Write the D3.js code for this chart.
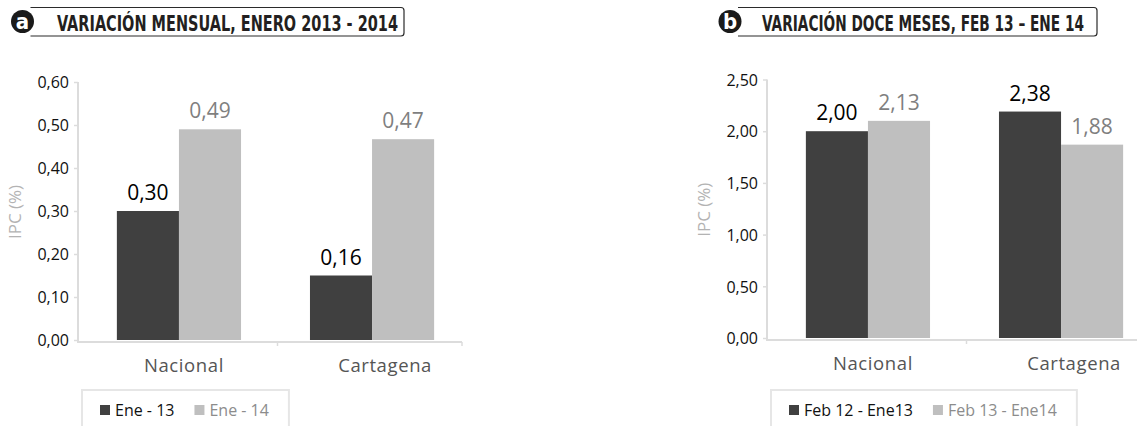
<!DOCTYPE html>
<html>
<head>
<meta charset="utf-8">
<script src="https://cdn.jsdelivr.net/npm/d3@7"></script>
<style>
  body { margin: 0; background: #fff; }
  svg { display: block; font-family: "Open Sans", sans-serif; }
</style>
</head>
<body>
<div id="chart"></div>
<script>
// Data
var categories = ["Nacional", "Cartagena"];

var seriesA = ["Ene - 13", "Ene - 14"];
var valuesA = [[0.30, 0.49], [0.15, 0.467]];          // bar heights as drawn
var labelsA = [["0,30", "0,49"], ["0,16", "0,47"]];    // printed value labels
var ticksA = [0, 0.1, 0.2, 0.3, 0.4, 0.5, 0.6];

var seriesB = ["Feb 12 - Ene13", "Feb 13 - Ene14"];
var valuesB = [[2.00, 2.10], [2.19, 1.87]];
var labelsB = [["2,00", "2,13"], ["2,38", "1,88"]];
var ticksB = [0, 0.5, 1, 1.5, 2, 2.5];

var titleA = "VARIACIÓN MENSUAL, ENERO 2013 - 2014";
var titleB = "VARIACIÓN DOCE MESES, FEB 13 – ENE 14";

var colors = ["#404040", "#bfbfbf"];
var labelColors = ["#000", "#7f7f7f"];
var legendColors = ["#111", "#8c8c8c"];

var titleFont = "'Liberation Sans Narrow', 'DejaVu Sans', sans-serif";

function init() {
    var svg = d3.select("#chart")
        .append("svg")
        .attr("width", 1137)
        .attr("height", 426);

    drawPanel(svg, {
        left: 0, letter: "a", badgeX: 22.5, titleX: 57, title: titleA, titleEnd: 404, titleWidth: 341,
        series: seriesA, values: valuesA, labels: labelsA, ticks: ticksA,
        yMax: 0.6, yTop: 82, yBottom: 340, axisEnd: 462
    });
    drawPanel(svg, {
        left: 689, letter: "b", badgeX: 730, titleX: 762, title: titleB, titleEnd: 1097, titleWidth: 322,
        series: seriesB, values: valuesB, labels: labelsB, ticks: ticksB,
        yMax: 2.5, yTop: 79.5, yBottom: 338, axisEnd: 1140
    });
}

function drawPanel(svg, cfg) {
    var g = svg.append("g");
    var ox = cfg.left;
    var axisX = ox + 78;

    // Title badge
    var cx = cfg.badgeX, cy = 21.5, r = 11.5;
    g.append("path")
        .attr("d", "M" + (cx + 8) + ",7.5 H" + (cfg.titleEnd - 3) +
            " Q" + cfg.titleEnd + ",7.5 " + cfg.titleEnd + ",10.5 V33" +
            " Q" + cfg.titleEnd + ",36 " + (cfg.titleEnd - 3) + ",36 H" + (cx + 8))
        .attr("fill", "none")
        .attr("stroke", "#2b2b2b")
        .attr("stroke-width", 1.2);
    g.append("circle")
        .attr("cx", cx).attr("cy", cy).attr("r", r)
        .attr("fill", "#1a1a1a");
    g.append("text")
        .attr("x", cx).attr("y", cy + 7)
        .attr("text-anchor", "middle")
        .style("font-family", titleFont)
        .style("font-stretch", "condensed")
        .style("font-weight", "bold")
        .style("font-size", "22px")
        .attr("fill", "#fff")
        .text(cfg.letter);
    g.append("text")
        .attr("x", cfg.titleX).attr("y", 31)
        .attr("textLength", cfg.titleWidth)
        .attr("lengthAdjust", "spacingAndGlyphs")
        .style("font-family", titleFont)
        .style("font-stretch", "condensed")
        .style("font-weight", "bold")
        .style("font-size", "21px")
        .attr("fill", "#231f20")
        .text(cfg.title);

    // Scales
    var x0 = d3.scaleBand()
        .domain(categories)
        .range([ox + 82.5, ox + 468.5])
        .paddingInner(0.357)
        .paddingOuter(0.178);
    var x1 = d3.scaleBand()
        .domain(d3.range(cfg.series.length))
        .range([0, x0.bandwidth()]);
    var y = d3.scaleLinear()
        .domain([0, cfg.yMax])
        .range([cfg.yBottom, cfg.yTop]);

    // Y axis
    var yAxis = d3.axisLeft(y)
        .tickValues(cfg.ticks)
        .tickSize(4)
        .tickPadding(5)
        .tickFormat(d => d3.format(".2f")(d).replace(".", ","));
    var ya = g.append("g")
        .attr("transform", "translate(" + axisX + ",0)")
        .call(yAxis);
    ya.select(".domain").attr("stroke", "#dcdcdc").attr("stroke-width", 2)
        .attr("d", "M0," + y(cfg.yMax) + "V" + (cfg.yBottom + 2));
    ya.selectAll(".tick line").attr("stroke", "#dcdcdc").attr("stroke-width", 1.5);
    ya.selectAll(".tick text")
        .attr("fill", "#111")
        .attr("font-family", "'Open Sans', sans-serif")
        .attr("font-size", 16)
        .attr("dy", "0.36em");

    // Y axis title
    g.append("text")
        .attr("transform", "translate(" + (ox + 21) + "," + ((cfg.yTop + cfg.yBottom) / 2 + 1) + ") rotate(-90)")
        .attr("text-anchor", "middle")
        .style("font-size", "17px")
        .attr("fill", "#b3b3b3")
        .text("IPC (%)");

    // Bars
    var groups = g.selectAll(".grp")
        .data(categories)
        .enter().append("g")
        .attr("class", "grp")
        .attr("transform", d => "translate(" + x0(d) + ",0)");

    groups.selectAll("rect")
        .data((d, i) => cfg.values[i].map((v, j) => ({v: v, j: j, lab: cfg.labels[i][j]})))
        .enter().append("rect")
        .attr("x", d => x1(d.j))
        .attr("y", d => y(d.v))
        .attr("width", x1.bandwidth())
        .attr("height", d => y(0) - y(d.v))
        .attr("fill", d => colors[d.j]);

    groups.selectAll("text.val")
        .data((d, i) => cfg.values[i].map((v, j) => ({v: v, j: j, lab: cfg.labels[i][j]})))
        .enter().append("text")
        .attr("class", "val")
        .attr("x", d => x1(d.j) + x1.bandwidth() / 2)
        .attr("y", d => y(d.v) - 11)
        .attr("text-anchor", "middle")
        .style("font-size", "21px")
        .attr("fill", d => labelColors[d.j])
        .text(d => d.lab);

    // X axis line with ticks between and after the groups
    var baseY = cfg.yBottom + 2;
    g.append("line")
        .attr("x1", axisX - 1).attr("x2", cfg.axisEnd)
        .attr("y1", baseY).attr("y2", baseY)
        .attr("stroke", "#dcdcdc").attr("stroke-width", 2);
    var sep = [x0.range()[0] + x0.step() * (1 + x0.paddingOuter() - x0.paddingInner() / 2) + 2,
               cfg.axisEnd];
    g.selectAll(".xtick")
        .data(sep)
        .enter().append("line")
        .attr("x1", d => d).attr("x2", d => d)
        .attr("y1", baseY).attr("y2", baseY + 4)
        .attr("stroke", "#dcdcdc").attr("stroke-width", 1.5);

    // Category labels
    var catOffset = [5, 13];
    g.selectAll(".cat")
        .data(categories)
        .enter().append("text")
        .attr("x", (d, i) => x0(d) + x0.bandwidth() / 2 + catOffset[i])
        .attr("y", baseY + 30)
        .attr("text-anchor", "middle")
        .style("font-size", "18.5px")
        .style("letter-spacing", "0.6px")
        .attr("fill", "#555")
        .text(d => d);

    // Legend
    var lx = ox + 82, ly = 390;
    var legend = g.append("g");
    var box = legend.append("rect")
        .attr("x", lx).attr("y", ly)
        .attr("height", 60)
        .attr("fill", "none")
        .attr("stroke", "#e6e6e6")
        .attr("stroke-width", 2);
    var cursor = lx + 18;
    cfg.series.forEach(function(s, i) {
        legend.append("rect")
            .attr("x", cursor).attr("y", 405)
            .attr("width", 10).attr("height", 10)
            .attr("fill", colors[i]);
        var t = legend.append("text")
            .attr("x", cursor + 15).attr("y", 416)
            .style("font-size", "16px")
            .attr("fill", legendColors[i])
            .text(s);
        cursor += 15 + t.node().getComputedTextLength() + 20;
    });
    box.attr("width", cursor - lx);
}

// Call the init function
init();
</script>
</body>
</html>
